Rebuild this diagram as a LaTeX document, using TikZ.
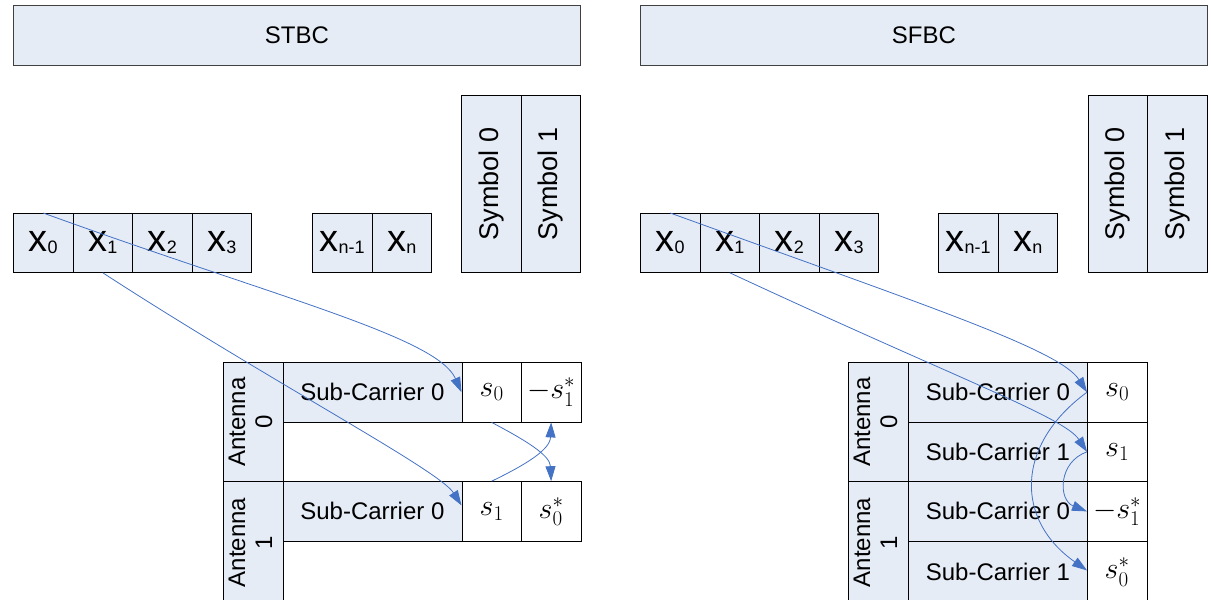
\RequirePackage{fix-cm}
\documentclass[tikz,border=0pt]{standalone}
\usepackage{fontspec}
\usepackage{graphicx}
\setmainfont{Liberation Sans}
\usetikzlibrary{arrows.meta,calc}
\definecolor{cellfill}{RGB}{230,236,246}
\definecolor{arrowblue}{RGB}{68,114,196}
\newcommand{\xsub}[1]{x\raisebox{-2pt}{\fontsize{18}{18}\selectfont #1}}
\newcommand{\vlab}[1]{\rotatebox{90}{#1}}
\newcommand{\antlab}[1]{\rotatebox{90}{\begin{tabular}{@{}c@{}}Antenna\\#1\end{tabular}}}
\tikzset{
  cell/.style={draw=black, line width=0.8pt, fill=cellfill, inner sep=0pt, anchor=north west,
    font=\fontsize{24}{27}\selectfont},
  wcell/.style={cell, fill=white},
  titlebox/.style={cell, draw=black!75, font=\fontsize{24}{26}\selectfont},
  xcell/.style={cell, minimum width=59.6pt, minimum height=59pt, font=\fontsize{38}{40}\selectfont},
  symcell/.style={cell, minimum width=59.5pt, minimum height=177pt, font=\fontsize{27}{29}\selectfont},
  mcell/.style={wcell, minimum width=59.5pt, minimum height=59.6pt, font=\fontsize{30}{32}\selectfont},
  sccell/.style={cell, minimum width=179pt, minimum height=59.6pt},
  antcell/.style={cell, minimum width=59.5pt, minimum height=119.2pt},
  link/.style={draw=arrowblue, line width=0.8pt, -{Triangle[length=15pt,width=10pt]}},
}
\begin{document}
\begin{tikzpicture}[x=1pt,y=-1pt]
\path[use as bounding box] (0,0) rectangle (1211,600);
\clip (0,0) rectangle (1211,600);

% ===================== STBC =====================
\node[titlebox, minimum width=567pt, minimum height=60pt] (atitle) at (13,5) {STBC};

\node[xcell] (ax0) at (13,213) {\xsub{0}};
\node[xcell] (ax1) at (72.6,213) {\xsub{1}};
\node[xcell] (ax2) at (132.2,213) {\xsub{2}};
\node[xcell] (ax3) at (191.8,213) {\xsub{3}};
\node[xcell] (axm) at (312,213) {\xsub{n-1}};
\node[xcell] (axn) at (371.6,213) {\xsub{n}};

\node[symcell] (asym0) at (461,95) {\vlab{Symbol 0}};
\node[symcell] (asym1) at (520.5,95) {\vlab{Symbol 1}};

\node[antcell] (aant0) at (223,362) {\antlab{0}};
\node[antcell, minimum height=122pt] (aant1) at (223,481.2) {\antlab{1}};

\node[sccell] (asc0) at (282.5,362) {Sub-Carrier 0};
\node[mcell] (as0) at (461.5,362) {$s_0$};
\node[mcell] (ams1) at (521,362) {$-s_1^*$};

\node[sccell] (asc1) at (282.5,481.2) {Sub-Carrier 0};
\node[mcell] (as1) at (461.5,481.2) {$s_1$};
\node[mcell] (as0c) at (521,481.2) {$s_0^*$};

\draw[link] (ax0.north) .. controls (278,298) and (437,337) .. (as0.west);
\draw[link] (ax1.south) .. controls (271,382) and (439,470) .. ($(as1.west)+(0,-6)$);
\draw[link] (as0.south) .. controls (525,440) and (550,455) .. (as0c.north);
\draw[link] (as1.north) .. controls (525,465) and (550,450) .. (ams1.south);

% ===================== SFBC =====================
\node[titlebox, minimum width=567pt, minimum height=60pt] (btitle) at (640,5) {SFBC};

\node[xcell] (bx0) at (640,213) {\xsub{0}};
\node[xcell] (bx1) at (699.6,213) {\xsub{1}};
\node[xcell] (bx2) at (759.2,213) {\xsub{2}};
\node[xcell] (bx3) at (818.8,213) {\xsub{3}};
\node[xcell] (bxm) at (938,213) {\xsub{n-1}};
\node[xcell] (bxn) at (997.6,213) {\xsub{n}};

\node[symcell] (bsym0) at (1087.5,95) {\vlab{Symbol 0}};
\node[symcell] (bsym1) at (1147,95) {\vlab{Symbol 1}};

\node[antcell] (bant0) at (848,362) {\antlab{0}};
\node[antcell, minimum height=122pt] (bant1) at (848,481.2) {\antlab{1}};

\node[sccell] (bsc0) at (908,362) {Sub-Carrier 0};
\node[sccell] (bsc1) at (908,421.6) {Sub-Carrier 1};
\node[sccell] (bsc2) at (908,481.2) {Sub-Carrier 0};
\node[sccell, minimum height=62pt] (bsc3) at (908,540.8) {Sub-Carrier 1};

\node[mcell] (bs0) at (1087,362) {$s_0$};
\node[mcell] (bs1) at (1087,421.6) {$s_1$};
\node[mcell] (bms1) at (1087,481.2) {$-s_1^*$};
\node[mcell, minimum height=62pt] (bs0c) at (1087,540.8) {$s_0^*$};

\draw[link] (bx0.north) .. controls (933,308) and (1060,350) .. (bs0.west);
\draw[link] (bx1.south) .. controls (960,380) and (1064,417) .. (bs1.west);
\draw[link] (bs0.west) .. controls (1015,445) and (1015,520) .. ($(bs0c.north west)+(0,29.6)$);
\draw[link] (bs1.west) .. controls (1058,462) and (1058,500) .. (bms1.west);
\end{tikzpicture}
\end{document}
